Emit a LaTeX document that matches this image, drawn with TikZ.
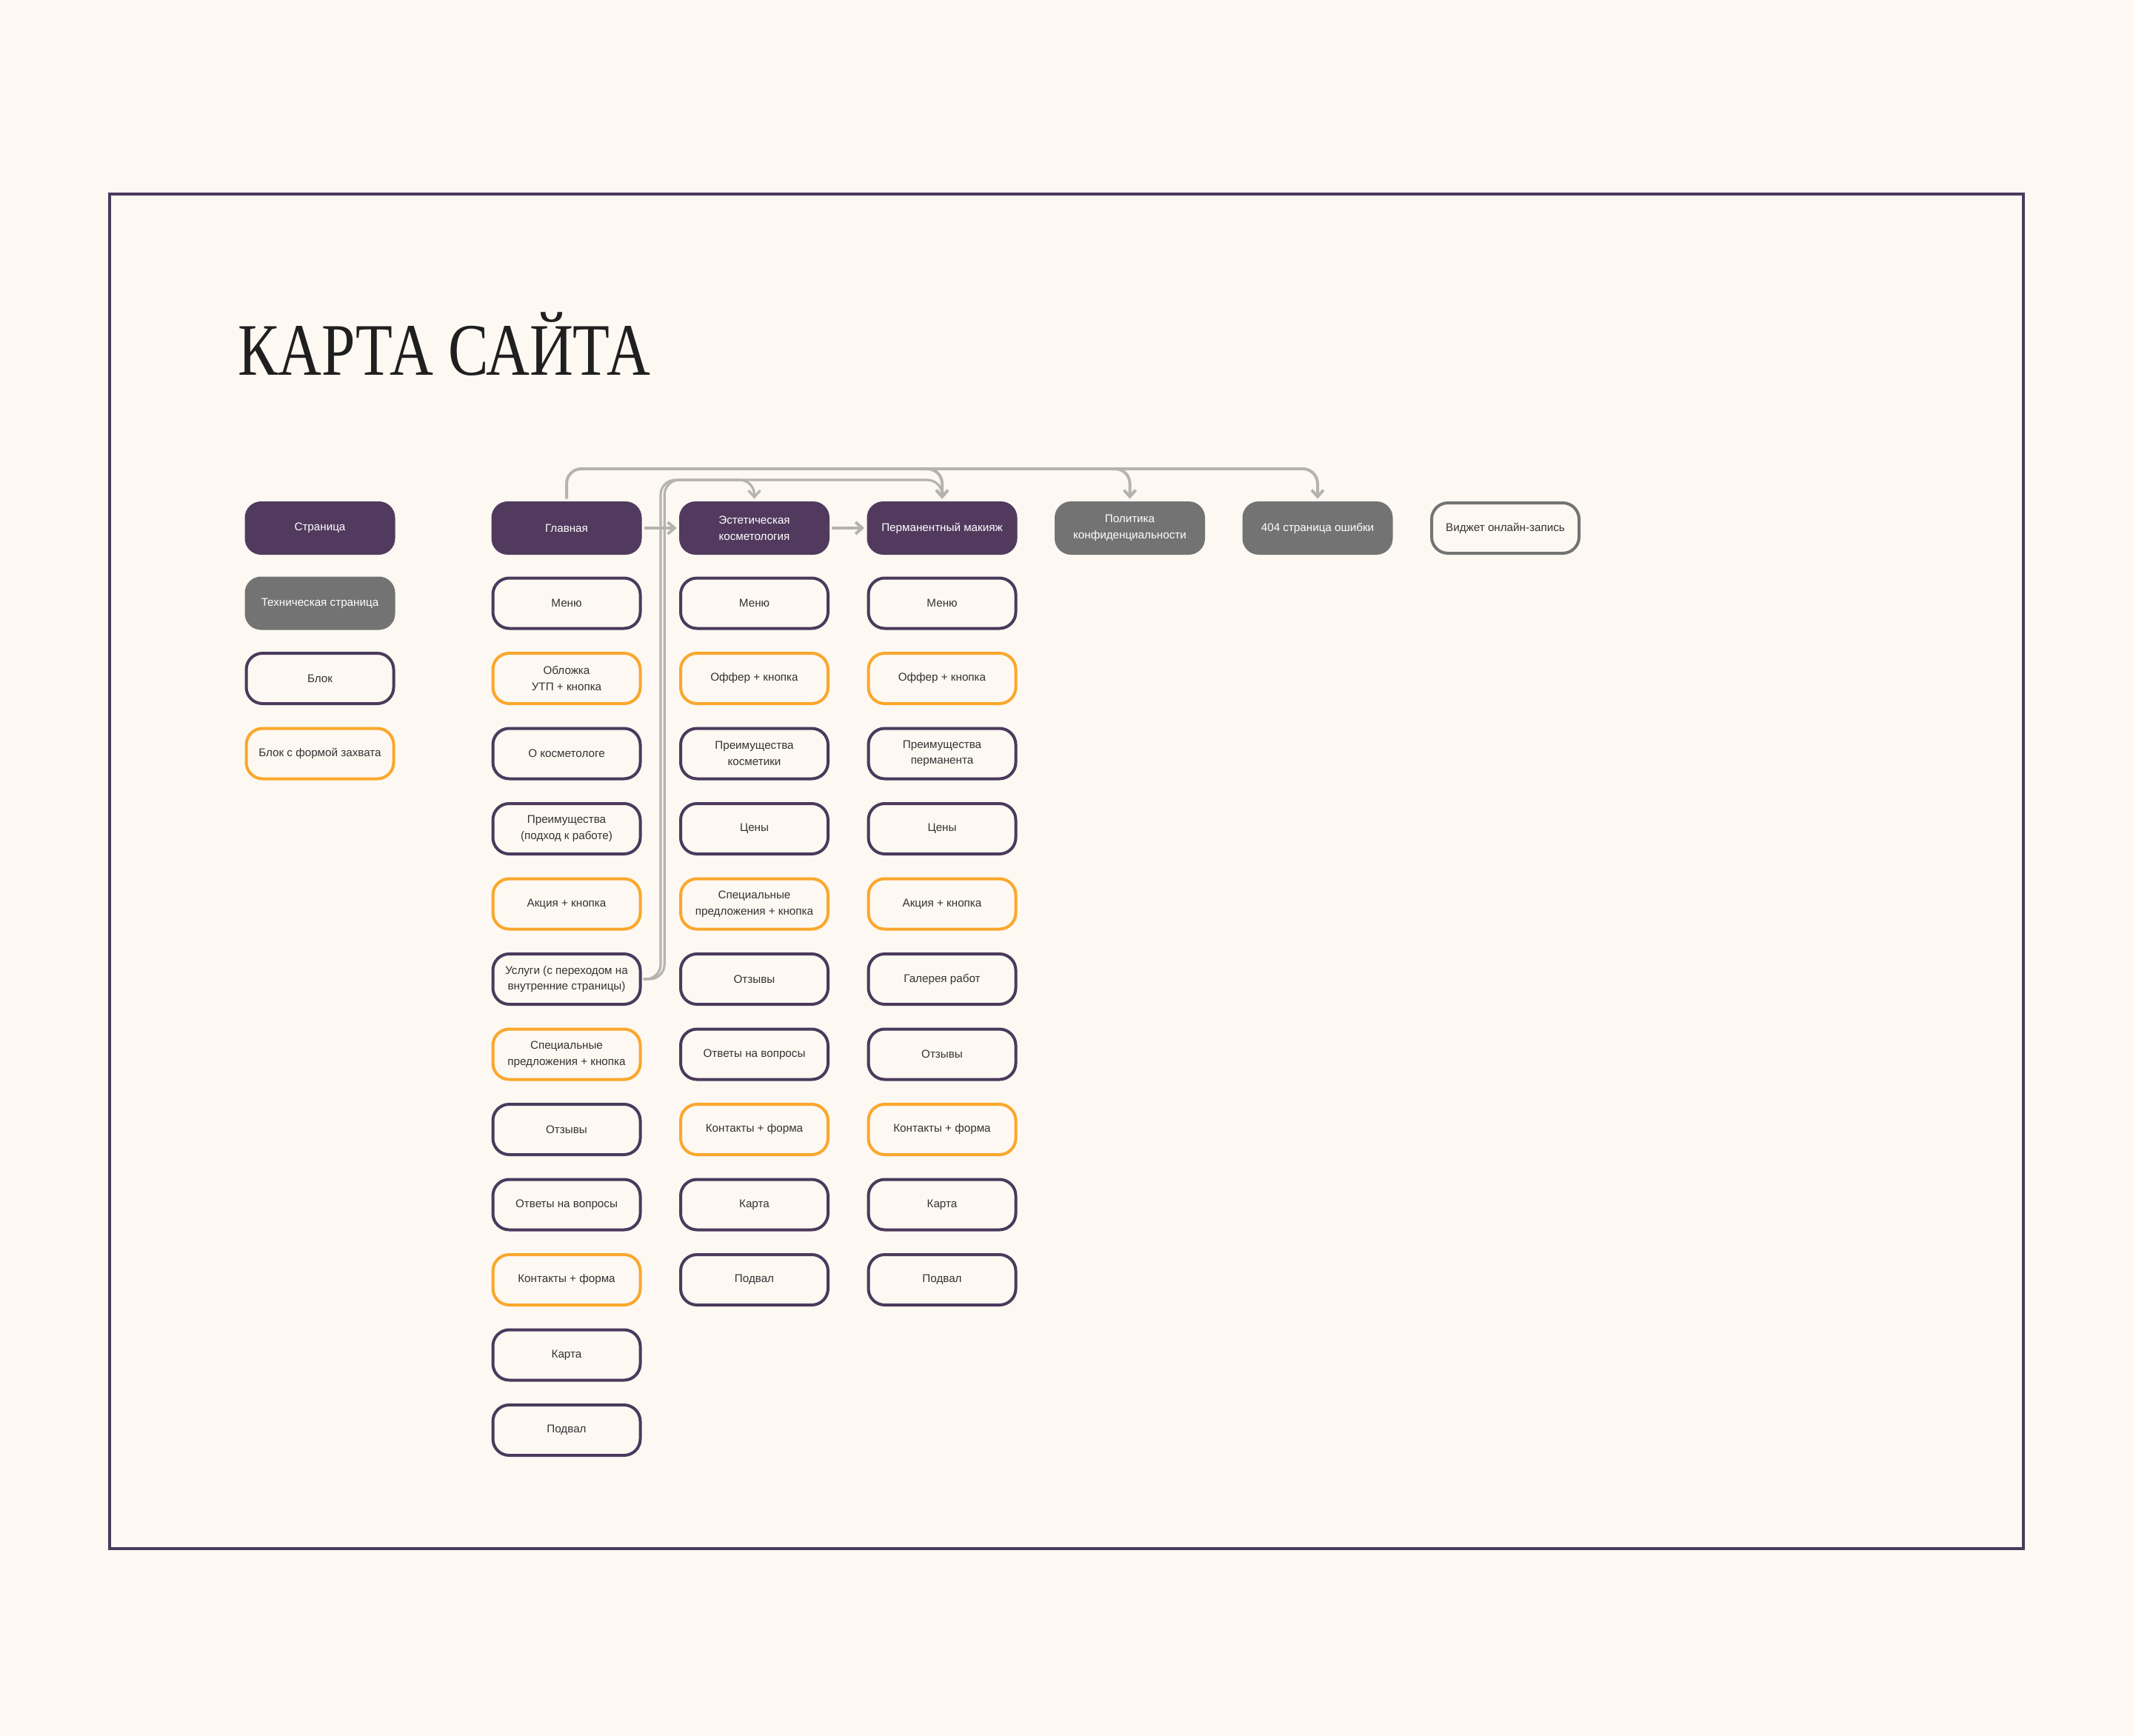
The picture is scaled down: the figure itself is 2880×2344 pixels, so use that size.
\documentclass[tikz,border=0pt]{standalone}
\usepackage{fontspec}
\setmainfont{Liberation Sans}
\newfontfamily\titlefont{Liberation Serif}
\usepackage{graphicx}
\usetikzlibrary{arrows.meta}

\definecolor{bgcream}{HTML}{FDF8F2}
\definecolor{plum}{HTML}{523A5E}
\definecolor{framepl}{HTML}{4B3A5C}
\definecolor{techgray}{HTML}{737373}
\definecolor{amber}{HTML}{FBA72C}
\definecolor{linkgray}{HTML}{B5B3B0}
\definecolor{txtdark}{HTML}{333333}

\begin{document}
\begin{tikzpicture}[x=0.5pt, y=-0.5pt, node distance=50.75pt]

\tikzstyle{box} = [rectangle, rounded corners=11pt, align=center, inner sep=0pt, font=\fontsize{7.6}{10.8}\selectfont]
\tikzstyle{page} = [box, minimum width=101.5pt, minimum height=36pt, fill=plum, text=white]
\tikzstyle{tech} = [box, minimum width=101.5pt, minimum height=36pt, fill=techgray, text=white]
\tikzstyle{block} = [box, minimum width=99.5pt, minimum height=34pt, line width=2pt, draw=framepl, fill=bgcream, text=txtdark]
\tikzstyle{form} = [block, draw=amber]
\tikzstyle{widget} = [block, draw=techgray]
\tikzstyle{link} = [draw=linkgray, line width=2pt, rounded corners=10pt]
\tikzstyle{arrow} = [link, -{Straight Barb[length=4.5pt, width=8pt]}, shorten >=1.5pt]

\useasboundingbox (0,0) rectangle (2880,2344);
\fill [bgcream] (0,0) rectangle (2880,2344);
\draw [framepl, line width=2pt] (148,262) rectangle (2732,2091);

\node (title) [anchor=base west, inner sep=0pt, text=black!88] at (321,506)
  {\titlefont\fontsize{50}{50}\selectfont\scalebox{0.815}[1]{КАРТА САЙТА}};

% legend
\node (legPage) [page] at (432,713) {Страница};
\node (legTech) [tech, below of=legPage] {Техническая страница};
\node (legBlock) [block, below of=legTech] {Блок};
\node (legForm) [form, below of=legBlock] {Блок с формой захвата};

% pages
\node (glav) [page] at (765,713) {Главная};
\node (est) [page, right of=glav, xshift=76pt] {Эстетическая\\косметология};
\node (perm) [page, right of=est, xshift=76pt] {Перманентный макияж};
\node (policy) [tech, right of=perm, xshift=76pt] {Политика\\конфиденциальности};
\node (err) [tech, right of=policy, xshift=76pt] {404 страница ошибки};
\node (widget) [widget, right of=err, xshift=76pt] {Виджет онлайн-запись};

% main page
\node (gMenu) [block, below of=glav] {Меню};
\node (gCover) [form, below of=gMenu] {Обложка\\УТП + кнопка};
\node (gAbout) [block, below of=gCover] {О косметологе};
\node (gAdv) [block, below of=gAbout] {Преимущества\\(подход к работе)};
\node (gPromo) [form, below of=gAdv] {Акция + кнопка};
\node (usl) [block, below of=gPromo] {Услуги (с переходом на\\внутренние страницы)};
\node (gSpec) [form, below of=usl] {Специальные\\предложения + кнопка};
\node (gRev) [block, below of=gSpec] {Отзывы};
\node (gFaq) [block, below of=gRev] {Ответы на вопросы};
\node (gCont) [form, below of=gFaq] {Контакты + форма};
\node (gMap) [block, below of=gCont] {Карта};
\node (gFoot) [block, below of=gMap] {Подвал};

% cosmetology
\node (eMenu) [block, below of=est] {Меню};
\node (eOffer) [form, below of=eMenu] {Оффер + кнопка};
\node (eAdv) [block, below of=eOffer] {Преимущества\\косметики};
\node (ePrice) [block, below of=eAdv] {Цены};
\node (eSpec) [form, below of=ePrice] {Специальные\\предложения + кнопка};
\node (eRev) [block, below of=eSpec] {Отзывы};
\node (eFaq) [block, below of=eRev] {Ответы на вопросы};
\node (eCont) [form, below of=eFaq] {Контакты + форма};
\node (eMap) [block, below of=eCont] {Карта};
\node (eFoot) [block, below of=eMap] {Подвал};

% permanent makeup
\node (pMenu) [block, below of=perm] {Меню};
\node (pOffer) [form, below of=pMenu] {Оффер + кнопка};
\node (pAdv) [block, below of=pOffer] {Преимущества\\перманента};
\node (pPrice) [block, below of=pAdv] {Цены};
\node (pPromo) [form, below of=pPrice] {Акция + кнопка};
\node (pGal) [block, below of=pPromo] {Галерея работ};
\node (pRev) [block, below of=pGal] {Отзывы};
\node (pCont) [form, below of=pRev] {Контакты + форма};
\node (pMap) [block, below of=pCont] {Карта};
\node (pFoot) [block, below of=pMap] {Подвал};

% connectors
\coordinate (busT) at (0,633);
\coordinate (busM) at (0,648);
\coordinate (busX) at (892,0);

\draw [arrow, shorten <=1.5pt] (glav.east) -- (est.west);
\draw [arrow, shorten <=1.5pt] (est.east) -- (perm.west);

\draw [arrow, shorten <=1.5pt] (glav.north) -- (glav.north |- busT) -- (err.north |- busT) -- (err.north);
\draw [arrow] ([xshift=-12pt]perm.north |- busT) -- (perm.north |- busT) -- (perm.north);
\draw [arrow] ([xshift=-12pt]policy.north |- busT) -- (policy.north |- busT) -- (policy.north);

\draw [arrow, line width=1.6pt, shorten <=1pt] (usl.east) -- (usl.east -| busX) -- (busX |- busM) -- (perm.north |- busM) -- (perm.north);
\draw [arrow, line width=1.6pt, shorten <=1pt] (usl.east) -- ([xshift=2.6pt]usl.east -| busX) -- ([xshift=2.6pt]busX |- busM) -- (est.north |- busM) -- (est.north);

\end{tikzpicture}
\end{document}
